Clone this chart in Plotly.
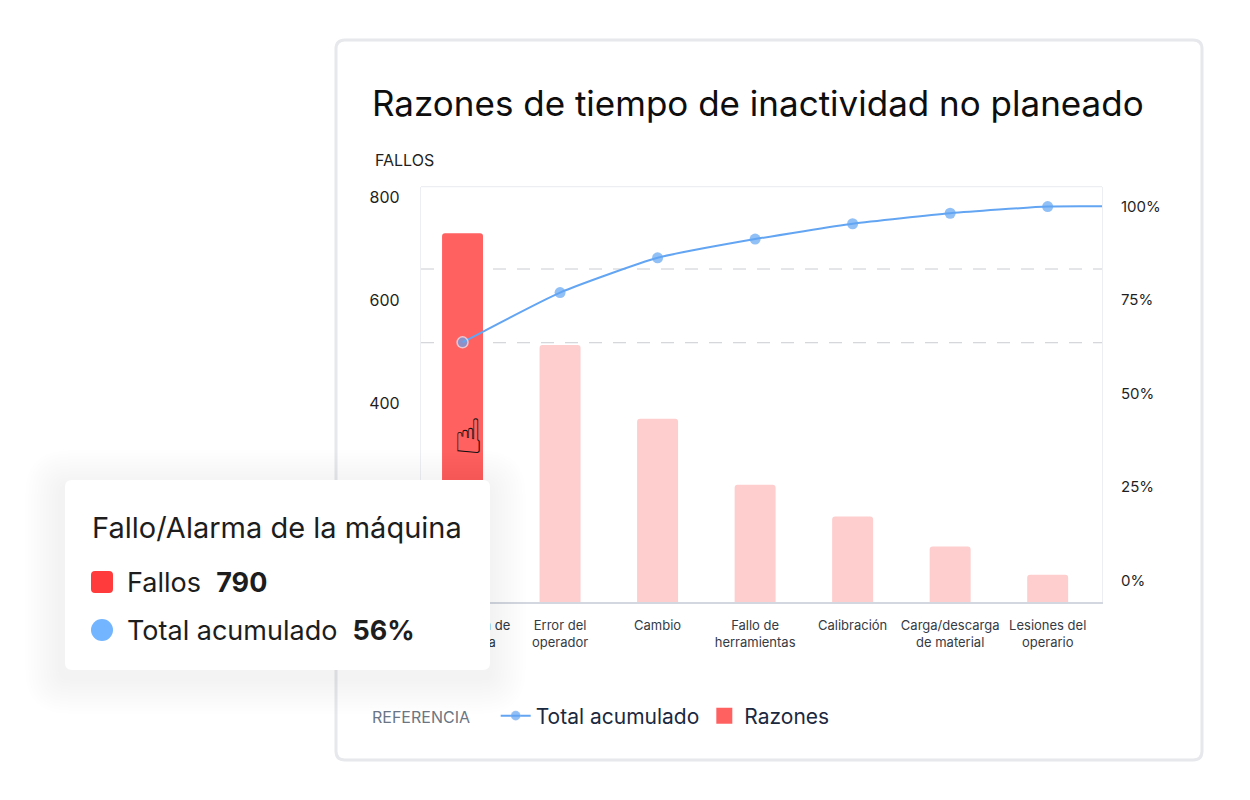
import plotly.graph_objects as go

W, H = 1250, 800

# datos
razones = [
    "Fallo/Alarma de<br>la máquina",
    "Error del<br>operador",
    "Cambio",
    "Fallo de<br>herramientas",
    "Calibración",
    "Carga/descarga<br>de material",
    "Lesiones del<br>operario",
]
fallos = [730, 513, 370, 242, 180, 122, 67]
total_acumulado = [63.7, 77.0, 86.3, 91.3, 95.4, 98.2, 100.0]
lineas_ref = [63.6, 83.3]
fallos_ticks = [400, 600, 800]
pct_ticks = [0, 25, 50, 75, 100]
pct_labels = ["0%", "25%", "50%", "75%", "100%"]
seleccion = 0

FONT = "Inter"
ROJO = "#ff6060"
AZUL = "#63a5f2"


def px(x):
    return x / W


def py(y):
    return 1 - y / H


def rounded_rect(x0, y0, x1, y1, r):
    # rectangulo redondeado en coordenadas de pixel -> paper
    rx, ry = r / W, r / H
    a, b, c, d = px(x0), py(y0), px(x1), py(y1)
    return (f"M{a + rx},{b} L{c - rx},{b} Q{c},{b} {c},{b - ry} "
            f"L{c},{d + ry} Q{c},{d} {c - rx},{d} L{a + rx},{d} "
            f"Q{a},{d} {a},{d + ry} L{a},{b - ry} Q{a},{b} {a + rx},{b} Z")


n = len(razones)
pos = list(range(n))
colores = [ROJO if i == seleccion else "#fecdcd" for i in pos]

fig = go.Figure()

fig.add_trace(go.Scatter(
    x=pos + [n], y=total_acumulado + [total_acumulado[-1]],
    name="Total acumulado", yaxis="y2",
    mode="lines+markers", line=dict(color=AZUL, width=2, shape="spline", smoothing=0.5),
    marker=dict(size=[11] * n + [0], color=AZUL,
                line=dict(color=["#e8f1ff" if i == seleccion else AZUL for i in pos] + [AZUL],
                          width=[1.5 if i == seleccion else 0 for i in pos] + [0])),
    hoverinfo="skip",
))

fig.add_trace(go.Bar(
    x=pos, y=fallos, name="Razones", showlegend=False,
    marker=dict(color=colores, cornerradius=3, line_width=0),
    width=0.42, hoverinfo="skip",
))

# entrada de leyenda para las barras (cuadrado grande)
fig.add_trace(go.Scatter(
    x=[None], y=[None], name="Razones", mode="markers",
    marker=dict(symbol="square", size=16, color=ROJO), hoverinfo="skip",
))

shapes = []

# tarjeta
shapes.append(dict(type="path", path=rounded_rect(336, 40, 1202, 760, 9), xref="paper", yref="paper",
                   line=dict(color="#e6e8eb", width=3), fillcolor="white", layer="below"))

# lineas de referencia discontinuas
for v in lineas_ref:
    shapes.append(dict(type="line", xref="x domain", yref="y2", x0=0, x1=1, y0=v, y1=v,
                       line=dict(color="#c9ccd1", width=1, dash="13px,11px"), layer="below"))

# borde superior del area del grafico
shapes.append(dict(type="line", xref="paper", yref="paper", x0=px(421), x1=px(1102),
                   y0=py(186.7), y1=py(186.7), line=dict(color="#eceef1", width=1.2), layer="below"))

# sombra del tooltip
for i in range(1, 13):
    e = i * 3
    shapes.append(dict(type="path", path=rounded_rect(65 - e - 4, 480 - e + 6, 490 + e, 670 + e + 8, 8 + e),
                       xref="paper", yref="paper", line_width=0,
                       fillcolor="rgba(40,50,80,0.005)", layer="above"))

# tooltip
shapes.append(dict(type="path", path=rounded_rect(65, 480, 490, 670, 7), xref="paper", yref="paper",
                   line_width=0, fillcolor="white", layer="above"))
shapes.append(dict(type="path", path=rounded_rect(91, 571, 113, 593, 4), xref="paper", yref="paper",
                   line_width=0, fillcolor="#ff3b3b", layer="above"))
shapes.append(dict(type="circle", xref="paper", yref="paper", x0=px(91), x1=px(113),
                   y0=py(641), y1=py(619), line_width=0, fillcolor="#74b5ff", layer="above"))

annotations = [
    dict(text="Razones de tiempo de inactividad no planeado", x=px(370), y=py(103),
         font=dict(size=35, color="#0e0e0e", family=FONT)),
    dict(text="FALLOS", x=px(373), y=py(160), font=dict(size=16, color="#1f1f1f", family=FONT)),
    dict(text="Fallo/Alarma de la máquina", x=px(90), y=py(527),
         font=dict(size=29, color="#1d1d1d", family=FONT)),
    dict(text="Fallos  <b>790</b>", x=px(125), y=py(582),
         font=dict(size=27, color="#1d1d1d", family=FONT)),
    dict(text="Total acumulado  <b>56%</b>", x=px(125), y=py(630),
         font=dict(size=27, color="#1d1d1d", family=FONT)),
    dict(text="☝", x=px(452), y=py(436), font=dict(size=48, color="#111111", family="DejaVu Sans")),
]
for a in annotations:
    a.update(xref="paper", yref="paper", xanchor="left", yanchor="middle", showarrow=False)

fig.update_layout(
    width=W, height=H,
    margin=dict(l=0, r=0, t=0, b=0),
    paper_bgcolor="white", plot_bgcolor="rgba(0,0,0,0)",
    font=dict(family=FONT, color="#2d333b"),
    xaxis=dict(
        domain=[px(421), px(1102)], range=[-0.426, 6.557], automargin=False,
        tickvals=pos, ticktext=razones, tickfont=dict(size=13, color="#353b44"),
        showgrid=False, zeroline=False, showline=True, linecolor="#d3d8e0", linewidth=1.5,
        ticks="", ticklabelstandoff=10,
    ),
    yaxis=dict(
        domain=[py(602.3), py(186.7)], range=[13.6, 820.6], automargin=False,
        tickvals=fallos_ticks, tickfont=dict(size=16, color="#1f1f1f"),
        showgrid=False, zeroline=False, showline=True, mirror=True,
        linecolor="#eceef1", linewidth=1.2, ticks="", ticklabelstandoff=17,
    ),
    yaxis2=dict(
        overlaying="y", side="right", range=[-5.78, 105.3], automargin=False,
        tickvals=pct_ticks, ticktext=pct_labels, tickfont=dict(size=15, color="#1f1f1f"),
        showgrid=False, zeroline=False, showline=False, ticks="", ticklabelstandoff=18,
    ),
    legend=dict(
        orientation="h", x=px(370), y=py(716), xanchor="left", yanchor="middle",
        title=dict(text="<span style='font-size:16px'>REFERENCIA</span>   ", side="left",
                   font=dict(size=21, color="#6b7583", family=FONT)),
        font=dict(size=21, color="#1b2940", family=FONT), itemwidth=30,
        bgcolor="rgba(0,0,0,0)",
    ),
    shapes=shapes,
    annotations=annotations,
)

fig.write_html(
    "out.html",
    config={"displayModeBar": False},
    post_script="document.body.style.margin='0';document.body.style.overflow='hidden';",
)
